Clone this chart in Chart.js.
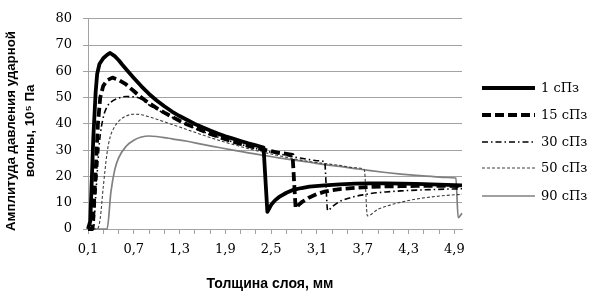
<!DOCTYPE html>
<html><head><meta charset="utf-8">
<script src="https://cdn.jsdelivr.net/npm/chart.js@4/dist/chart.umd.min.js"></script>
<style>html,body{margin:0;padding:0;background:#fff}</style>
</head><body>
<canvas id="c" width="590" height="293"></canvas>
<script>
const seriesLabels = ['1 сПз', '15 сПз', '30 сПз', '50 сПз', '90 сПз'];

const x1 = [0.1,0.13,0.17,0.2,0.22,0.25,0.3,0.35,0.39,0.45,0.5,0.55,0.6,0.7,0.8,0.9,1.0,1.1,1.2,1.3,1.4,1.5,1.6,1.7,1.8,1.9,2.0,2.1,2.2,2.3,2.4,2.45,2.5,2.55,2.6,2.7,2.8,2.9,3.0,3.2,3.4,3.6,3.8,4.0,4.2,4.4,4.6,4.8,5.0];
const y1 = [0,3,35,52,59,62.8,65,66.3,67,65.8,64.3,62.5,60.8,57.5,54.3,51.4,48.9,46.7,44.7,43,41.5,40,38.7,37.5,36.3,35.3,34.4,33.5,32.6,31.8,31,6.5,9.2,10.9,12.1,13.8,15,15.6,16.1,16.6,17,17.3,17.4,17.4,17.3,17.2,17,16.8,16.6];

const x2 = [0.1,0.16,0.2,0.23,0.26,0.3,0.35,0.42,0.5,0.6,0.7,0.8,0.9,1.0,1.1,1.2,1.3,1.4,1.5,1.6,1.7,1.8,1.9,2.0,2.1,2.2,2.3,2.4,2.5,2.6,2.7,2.78,2.82,2.86,2.9,3.0,3.1,3.2,3.3,3.4,3.6,3.8,4.0,4.2,4.4,4.6,4.8,5.0];
const y2 = [0,0,22,40,50,54.5,56.6,57.6,56.8,55,52.5,50,47.9,46,44.3,42.7,41.2,39.8,38.6,37.4,36.2,35.2,34.2,33.3,32.4,31.6,30.9,30.2,29.6,29,28.6,28.2,8,9.2,10.2,12,13.3,14.2,14.8,15.2,15.7,16,16.2,16.3,16.4,16.4,16.4,16.3];

const x3 = [0.1,0.17,0.2,0.25,0.3,0.35,0.4,0.5,0.6,0.7,0.8,0.9,1.0,1.1,1.2,1.3,1.4,1.5,1.6,1.7,1.8,1.9,2.0,2.1,2.2,2.3,2.4,2.5,2.6,2.7,2.8,2.9,3.0,3.1,3.2,3.24,3.3,3.4,3.5,3.6,3.7,3.8,4.0,4.2,4.4,4.6,4.8,5.0];
const y3 = [0,0,12,33,42.5,46.5,48.3,49.8,50.4,50.3,49.5,47.2,45.6,44,42.5,41,39.6,38.3,37.1,36,35,34,33.1,32.2,31.4,30.6,29.9,29.2,28.6,28,27.4,26.9,26.4,26,25.6,7,8.5,10.5,11.6,12.4,13,13.5,14.1,14.5,14.8,15,15.2,15.3];

const x4 = [0.1,0.22,0.26,0.3,0.35,0.39,0.45,0.5,0.6,0.7,0.8,0.9,1.0,1.1,1.2,1.3,1.4,1.5,1.6,1.7,1.8,1.9,2.0,2.2,2.4,2.6,2.8,3.0,3.2,3.4,3.6,3.72,3.76,3.9,4.0,4.2,4.4,4.6,4.8,5.0];
const y4 = [0,0,4,16,29,35,39,41,43,43.7,43.5,42.7,41.8,40.8,39.8,38.8,37.8,36.8,35.8,34.8,33.9,33,32.2,30.6,29.2,27.9,26.7,25.7,24.9,24.2,23.3,22.6,5,7.5,8.6,10.2,11.4,12.2,12.8,13.2];

const x5 = [0.1,0.35,0.4,0.45,0.5,0.6,0.7,0.8,0.9,1.0,1.1,1.2,1.4,1.6,1.8,2.0,2.2,2.4,2.6,2.8,3.0,3.2,3.4,3.6,3.8,4.0,4.2,4.4,4.6,4.8,4.92,4.95,5.0];
const y5 = [0,0,14,22.5,27,31.5,33.8,35,35.4,35.2,34.8,34.3,33.4,32.2,31.1,30,29,28,27.1,26.2,25.4,24.5,23.8,23,22.2,21.5,20.9,20.4,20,19.6,19.4,4.3,6];

const yTickValues = [0,10,20,30,40,50,60,70,80];
const xTickLabels = ['0,1','0,7','1,3','1,9','2,5','3,1','3,7','4,3','4,9'];
const xTitle = 'Толщина слоя, мм';
const yTitle = ['Амплитуда давления ударной', 'волны, 10\u2075 Па'];

const xs = [x1, x2, x3, x4, x5];
const ys = [y1, y2, y3, y4, y5];
const styles = [
  {color: '#000000', width: 3.8, dash: [], smooth: false},
  {color: '#000000', width: 3.8, dash: [9, 4], smooth: false},
  {color: '#000000', width: 1.6, dash: [6, 3, 1.5, 3], smooth: true},
  {color: '#404040', width: 1.1, dash: [3, 2], smooth: true},
  {color: '#808080', width: 1.7, dash: [], smooth: true}
];

const datasets = seriesLabels.map((lab, i) => {
  const d = {
    label: lab,
    data: xs[i].map((x, j) => ({x: x, y: ys[i][j]})),
    borderColor: styles[i].color,
    backgroundColor: styles[i].color,
    borderWidth: styles[i].width,
    borderDash: styles[i].dash,
    borderJoinStyle: 'round',
    pointRadius: 0,
    fill: false,
    clip: 6,
    order: i
  };
  if (styles[i].smooth) d.cubicInterpolationMode = 'monotone';
  else d.tension = 0;
  return d;
});

const GRID = '#a3a3a3';
const fmt = v => (Math.round(v * 10) / 10).toFixed(1).replace('.', ',');

const decor = {
  id: 'decor',
  afterDraw(chart) {
    const ctx = chart.ctx;
    ctx.save();
    ctx.fillStyle = '#000';
    ctx.font = 'bold 14px "Liberation Sans", Arial, sans-serif';
    ctx.textAlign = 'center';
    ctx.textBaseline = 'middle';
    ctx.fillText(xTitle, 270, 284);
    ctx.font = 'bold 13.3px "Liberation Sans", Arial, sans-serif';
    ctx.save();
    ctx.translate(11, 131);
    ctx.rotate(-Math.PI / 2);
    ctx.fillText(yTitle[0], 0, 0);
    ctx.fillText(yTitle[1], 0, 19);
    ctx.restore();
    const lx0 = 482, lx1 = 535, tx = 541;
    const ly = [88, 115, 142, 168, 196];
    ctx.font = '13px "DejaVu Serif", serif';
    ctx.textAlign = 'left';
    chart.data.datasets.forEach((ds, i) => {
      ctx.save();
      ctx.strokeStyle = ds.borderColor;
      ctx.lineWidth = ds.borderWidth;
      ctx.setLineDash(ds.borderDash);
      ctx.beginPath();
      ctx.moveTo(lx0, ly[i]);
      ctx.lineTo(lx1, ly[i]);
      ctx.stroke();
      ctx.restore();
      ctx.fillStyle = '#000';
      ctx.fillText(ds.label, tx, ly[i] + 1);
    });
    ctx.restore();
  }
};

new Chart(document.getElementById('c'), {
  type: 'line',
  data: {datasets: datasets},
  options: {
    responsive: false,
    devicePixelRatio: 1,
    animation: false,
    layout: {padding: {top: 7, right: 128, left: 0, bottom: 0}},
    plugins: {legend: {display: false}, tooltip: {enabled: false}},
    scales: {
      x: {
        type: 'linear',
        min: 0.1,
        max: 5.0,
        afterFit: s => { s.height = 64; },
        afterBuildTicks: s => {
          const t = [];
          for (let i = 0; i <= 24; i++) t.push({value: Math.round((0.1 + 0.2 * i) * 10) / 10});
          s.ticks = t;
        },
        grid: {drawOnChartArea: false, drawTicks: true, tickLength: 5, color: GRID},
        border: {display: true, color: GRID},
        ticks: {
          autoSkip: false, maxRotation: 0, padding: 8,
          color: '#000',
          font: {family: '"DejaVu Serif", serif', size: 13},
          callback: v => { const s = fmt(v); return xTickLabels.includes(s) ? s : ''; }
        }
      },
      y: {
        min: 0, max: 80,
        afterFit: s => { s.width = 88; },
        afterBuildTicks: s => { s.ticks = yTickValues.map(v => ({value: v})); },
        grid: {color: GRID, tickLength: 5},
        border: {display: true, color: GRID},
        ticks: {
          padding: 11, color: '#000',
          font: {family: '"DejaVu Serif", serif', size: 13}
        }
      }
    }
  },
  plugins: [decor]
});
</script>
</body></html>
